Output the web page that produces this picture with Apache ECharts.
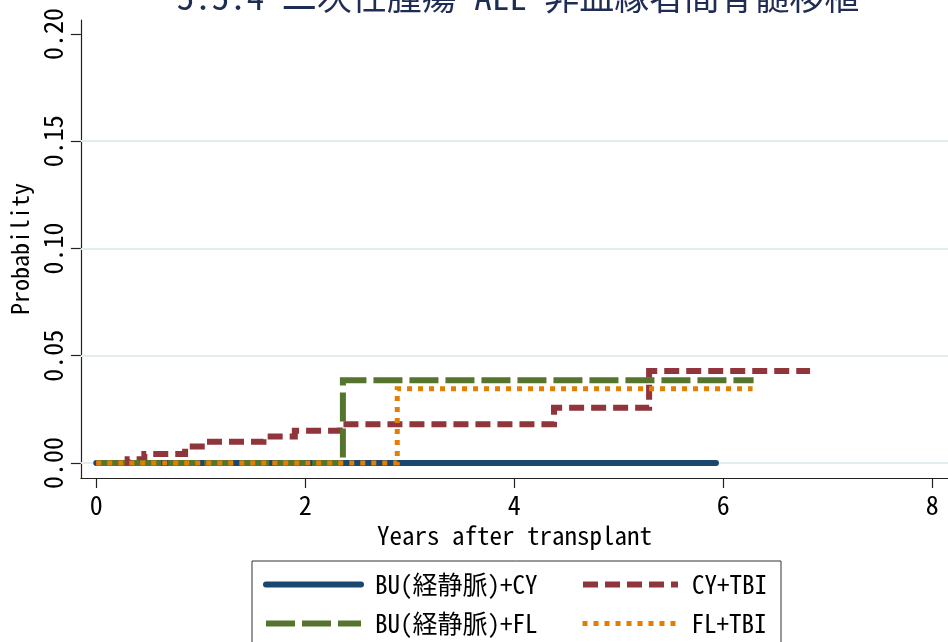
<!DOCTYPE html>
<html><head><meta charset="utf-8">
<script src="https://cdn.jsdelivr.net/npm/echarts@6/dist/echarts.min.js"></script>
<style>html,body{margin:0;padding:0;background:#fff}#c{width:948px;height:642px}</style>
</head><body><div id="c"></div><script>
const titleText = '5.5.4 二次性腫瘍 ALL 非血縁者間骨髄移植';
const xAxisTitle = 'Years after transplant';
const yAxisTitle = 'Probability';
const xTicks = [0, 2, 4, 6, 8];
const yTicks = [0, 0.05, 0.10, 0.15, 0.20];
const gridValues = [0, 0.05, 0.10, 0.15];
const seriesNames = ['BU(経静脈)+CY', 'CY+TBI', 'BU(経静脈)+FL', 'FL+TBI'];

const buCyTime = [0, 5.93];
const buCyProb = [0, 0];
const cyTbiTime = [0, 0.30, 0.46, 0.85, 1.04, 1.60, 1.90, 2.33, 4.38, 5.29, 6.83];
const cyTbiProb = [0, 0.0017, 0.0042, 0.0077, 0.0099, 0.0124, 0.0150, 0.0181, 0.0257, 0.0429, 0.0429];
const buFlTime = [0, 2.36, 6.29];
const buFlProb = [0, 0.0386, 0.0386];
const flTbiTime = [0, 2.88, 6.28];
const flTbiProb = [0, 0.0346, 0.0346];

const FONT = "'Noto Sans Mono CJK JP','Noto Sans CJK JP','Liberation Mono',monospace";
const zip = (a, b) => a.map((v, i) => [v, b[i]]);
const axisCol = '#222';

const chart = echarts.init(document.getElementById('c'), null, {renderer: 'canvas'});

function legendAt(name, left, top, lw) {
  return {
    data: [name], left: left, top: top, padding: 0, orient: 'horizontal',
    itemWidth: 95, itemHeight: 14, selectedMode: false,
    itemStyle: {opacity: 0},
    lineStyle: {width: lw},
    textStyle: {fontSize: 25, fontFamily: FONT, color: '#000', padding: [0, 0, 0, 9]}
  };
}

const option = {
  animation: false,
  backgroundColor: '#fff',
  title: {
    text: titleText, left: 518, textAlign: 'center', top: -21, padding: 0,
    textStyle: {fontSize: 35, fontWeight: 'normal', color: '#1f2d55', fontFamily: FONT}
  },
  grid: {left: 78, top: 20, width: 876, height: 458, containLabel: false},
  legend: [
    legendAt(seriesNames[0], 263, 572, 6),
    legendAt(seriesNames[1], 580, 572, 6),
    legendAt(seriesNames[2], 263, 611, 6),
    legendAt(seriesNames[3], 580, 611, 5)
  ],
  graphic: [{
    type: 'rect', silent: true,
    shape: {x: 252, y: 561, width: 529, height: 120},
    style: {fill: 'none', stroke: '#333', lineWidth: 1}
  }],
  xAxis: {
    type: 'value', min: -0.147, max: 8.15,
    axisLine: {show: true, onZero: false, lineStyle: {color: axisCol, width: 1.2}},
    axisTick: {show: true, length: 10, customValues: xTicks, lineStyle: {color: axisCol, width: 1.2}},
    axisLabel: {customValues: xTicks, fontSize: 26, fontFamily: FONT, color: '#000', margin: 14},
    splitLine: {show: false},
    name: xAxisTitle, nameLocation: 'middle', nameGap: 42,
    nameTextStyle: {fontSize: 25, fontFamily: FONT, color: '#000'}
  },
  yAxis: {
    type: 'value', min: -0.007, max: 0.2065,
    axisLine: {show: true, onZero: false, lineStyle: {color: axisCol, width: 1.2}},
    axisTick: {show: true, length: 10, customValues: yTicks, lineStyle: {color: axisCol, width: 1.2}},
    axisLabel: {customValues: yTicks, rotate: 90, fontSize: 26, fontFamily: FONT, color: '#000', margin: 15,
      formatter: v => v.toFixed(2)},
    splitLine: {show: false},
    name: yAxisTitle, nameLocation: 'middle', nameGap: 46, nameRotate: 90,
    nameTextStyle: {fontSize: 24, fontFamily: FONT, color: '#000'}
  },
  series: [
    {
      type: 'line', name: '_grid', data: [], silent: true, z: 1,
      markLine: {
        silent: true, z: 1, symbol: ['none', 'none'], label: {show: false}, animation: false,
        lineStyle: {color: '#e3ecef', width: 2, type: 'solid'},
        data: gridValues.map(v => ({yAxis: v}))
      }
    },
    {
      type: 'line', name: seriesNames[0], data: zip(buCyTime, buCyProb), step: 'end', symbol: 'none',
      silent: true, z: 3,
      lineStyle: {color: '#1a476f', width: 6, cap: 'round'}, itemStyle: {color: '#1a476f'}
    },
    {
      type: 'line', name: seriesNames[1], data: zip(cyTbiTime, cyTbiProb), step: 'end', symbol: 'none',
      silent: true, z: 4,
      lineStyle: {color: '#90353b', width: 6, type: [15, 7], cap: 'butt', join: 'miter'}, itemStyle: {color: '#90353b'}
    },
    {
      type: 'line', name: seriesNames[2], data: zip(buFlTime, buFlProb), step: 'end', symbol: 'none',
      silent: true, z: 5,
      lineStyle: {color: '#55752f', width: 6, type: [29, 7], cap: 'butt', join: 'miter'}, itemStyle: {color: '#55752f'}
    },
    {
      type: 'line', name: seriesNames[3], data: zip(flTbiTime, flTbiProb), step: 'end', symbol: 'none',
      silent: true, z: 6,
      lineStyle: {color: '#e37e00', width: 5, type: [5, 6], cap: 'butt', join: 'miter'}, itemStyle: {color: '#e37e00'}
    }
  ]
};
chart.setOption(option);
</script></body></html>
